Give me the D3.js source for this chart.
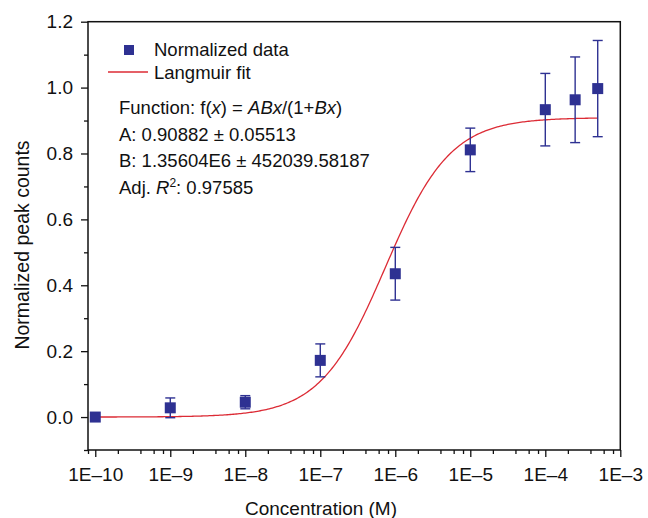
<!DOCTYPE html>
<html>
<head>
<meta charset="utf-8">
<script src="https://cdn.jsdelivr.net/npm/d3@7"></script>
<style>
  body { margin: 0; background: #ffffff; }
  svg text { font-family: "Liberation Sans", Arial, Helvetica, sans-serif; fill: #111; }
</style>
</head>
<body>
<div id="chart"></div>
<script>
// data
var concentrations = [1e-10, 1e-9, 1e-8, 1e-7, 1e-6, 1e-5, 1e-4, 2.5e-4, 5e-4];
var peakCounts = [0.0, 0.028, 0.045, 0.172, 0.435, 0.811, 0.933, 0.963, 0.997];
var peakErrors = [0.0, 0.03, 0.02, 0.05, 0.08, 0.066, 0.11, 0.13, 0.146];

// Langmuir fit parameters as printed on the chart
var fitA = 0.90882;
var fitB = 1.35604e6;
var fitRange = [1e-10, 5e-4];

var xTickValues = [1e-10, 1e-9, 1e-8, 1e-7, 1e-6, 1e-5, 1e-4, 1e-3];
var xTickLabels = ["1E\u201310", "1E\u20139", "1E\u20138", "1E\u20137", "1E\u20136", "1E\u20135", "1E\u20134", "1E\u20133"];
var yTickValues = [0, 0.2, 0.4, 0.6, 0.8, 1.0, 1.2];
var yTickLabels = ["0.0", "0.2", "0.4", "0.6", "0.8", "1.0", "1.2"];
var yMinorValues = [-0.1, 0.1, 0.3, 0.5, 0.7, 0.9, 1.1];

var W = 648, H = 518;
var plotLeft = 88, plotRight = 620.3, plotTop = 21.7, plotBottom = 450;
var blue = "#2e3192", red = "#dc2b35";

var svg = d3.select("#chart").append("svg")
  .attr("width", W).attr("height", H);

var x = d3.scaleLog().domain([8e-11, 1e-3]).range([plotLeft, plotRight]);
var y = d3.scaleLinear().domain([-0.1, 1.2]).range([plotBottom, plotTop]);

// minor x ticks at 2,4,6,8 of each decade
var xMinor = [];
[-11, -10, -9, -8, -7, -6, -5, -4].forEach(function (p) {
  [2, 4, 6, 8].forEach(function (m) {
    var v = m * Math.pow(10, p);
    if (v >= 8e-11 && v < 1e-3) xMinor.push(v);
  });
});

//x-axis
svg.append("g")
  .attr("transform", "translate(0," + plotBottom + ")")
  .call(d3.axisBottom(x).tickValues(xMinor).tickSize(4).tickFormat(""))
  .call(function (g) { g.select(".domain").remove(); });

svg.append("g")
  .attr("class", "x axis")
  .attr("transform", "translate(0," + plotBottom + ")")
  .call(d3.axisBottom(x).tickValues(xTickValues).tickSize(7).tickPadding(11)
    .tickFormat(function (d, i) { return xTickLabels[i]; }))
  .call(function (g) {
    g.select(".domain").remove();
    g.selectAll("text").style("font-size", "19px").attr("fill", "#111");
  });

//y-axis
svg.append("g")
  .attr("transform", "translate(" + plotLeft + ",0)")
  .call(d3.axisLeft(y).tickValues(yMinorValues).tickSize(4).tickFormat(""))
  .call(function (g) { g.select(".domain").remove(); });

svg.append("g")
  .attr("class", "y axis")
  .attr("transform", "translate(" + plotLeft + ",0)")
  .call(d3.axisLeft(y).tickValues(yTickValues).tickSize(7).tickPadding(8)
    .tickFormat(function (d, i) { return yTickLabels[i]; }))
  .call(function (g) {
    g.select(".domain").remove();
    g.selectAll("text").style("font-size", "19px").attr("fill", "#111");
  });

svg.selectAll(".tick line").attr("stroke", "#111").attr("stroke-width", 1.3);

// frame
svg.append("rect")
  .attr("x", plotLeft).attr("y", plotTop)
  .attr("width", plotRight - plotLeft).attr("height", plotBottom - plotTop)
  .attr("fill", "none").attr("stroke", "#111").attr("stroke-width", 1.5);

// axis titles
svg.append("text")
  .attr("x", 321).attr("y", 515)
  .attr("text-anchor", "middle")
  .style("font-size", "19px")
  .text("Concentration (M)");

svg.append("text")
  .attr("transform", "translate(29,245) rotate(-90)")
  .attr("text-anchor", "middle")
  .style("font-size", "19.5px")
  .text("Normalized peak counts");

// Langmuir fit curve
var logStart = Math.log10(fitRange[0]), logEnd = Math.log10(fitRange[1]);
var fitX = d3.range(logStart, logEnd, 0.02).concat([logEnd]).map(function (p) { return Math.pow(10, p); });
var fitLine = d3.line()
  .x(function (d) { return x(d); })
  .y(function (d) { return y(fitA * fitB * d / (1 + fitB * d)); });

svg.append("path")
  .attr("d", fitLine(fitX))
  .attr("fill", "none")
  .attr("stroke", red)
  .attr("stroke-width", 1.3);

// error bars
var errG = svg.append("g").attr("stroke", blue).attr("stroke-width", 1.4);
concentrations.forEach(function (c, i) {
  if (peakErrors[i] <= 0) return;
  var cx = x(c);
  var y0 = y(peakCounts[i] - peakErrors[i]), y1 = y(peakCounts[i] + peakErrors[i]);
  errG.append("line").attr("x1", cx).attr("x2", cx).attr("y1", y0).attr("y2", y1);
  errG.append("line").attr("x1", cx - 5).attr("x2", cx + 5).attr("y1", y0).attr("y2", y0);
  errG.append("line").attr("x1", cx - 5).attr("x2", cx + 5).attr("y1", y1).attr("y2", y1);
});

// data markers
svg.selectAll("rect.pt")
  .data(concentrations)
  .enter().append("rect")
  .attr("class", "pt")
  .attr("x", function (d) { return x(d) - 5.5; })
  .attr("y", function (d, i) { return y(peakCounts[i]) - 5.5; })
  .attr("width", 11).attr("height", 11)
  .attr("fill", blue);

// legend
svg.append("rect")
  .attr("x", 124).attr("y", 45).attr("width", 10).attr("height", 10)
  .attr("fill", blue);
svg.append("text")
  .attr("x", 154).attr("y", 56)
  .style("font-size", "18.5px")
  .text("Normalized data");

svg.append("line")
  .attr("x1", 108).attr("x2", 148).attr("y1", 72).attr("y2", 72)
  .attr("stroke", red).attr("stroke-width", 1.3);
svg.append("text")
  .attr("x", 154).attr("y", 78.5)
  .style("font-size", "18.5px")
  .text("Langmuir fit");

//fit summary
var notes = svg.append("g").style("font-size", "18.5px");

var t1 = notes.append("text").attr("x", 119).attr("y", 113.5);
t1.append("tspan").text("Function: f(");
t1.append("tspan").style("font-style", "italic").text("x");
t1.append("tspan").text(") = ");
t1.append("tspan").style("font-style", "italic").text("ABx");
t1.append("tspan").text("/(1+");
t1.append("tspan").style("font-style", "italic").text("Bx");
t1.append("tspan").text(")");

notes.append("text").attr("x", 119).attr("y", 140.5).text("A: 0.90882 \u00b1 0.05513");
notes.append("text").attr("x", 119).attr("y", 167).text("B: 1.35604E6 \u00b1 452039.58187");

var t4 = notes.append("text").attr("x", 119).attr("y", 194);
t4.append("tspan").text("Adj. ");
t4.append("tspan").style("font-style", "italic").text("R");
t4.append("tspan").attr("dy", -7).style("font-size", "12px").text("2");
t4.append("tspan").attr("dy", 7).text(": 0.97585");
</script>
</body>
</html>
